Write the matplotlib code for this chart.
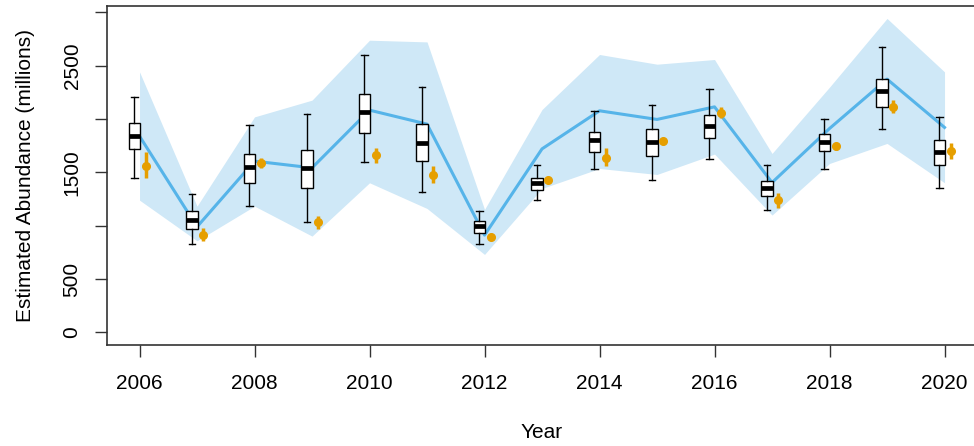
import matplotlib
matplotlib.use("Agg")
import matplotlib.pyplot as plt
import numpy as np

plt.rcParams['font.family'] = ['Liberation Sans', 'DejaVu Sans']

years = [2006, 2007, 2008, 2009, 2010, 2011, 2012, 2013,
         2014, 2015, 2016, 2017, 2018, 2019, 2020]

# model estimate (median) and credible band
est_median = [1840, 990, 1606, 1543, 2084, 1953, 912, 1721,
              2078, 1997, 2115, 1405, 1912, 2375, 1922]
band_upper = [2443, 1184, 2021, 2178, 2740, 2724, 1153, 2090,
              2606, 2515, 2559, 1678, 2300, 2944, 2443]
band_lower = [1240, 859, 1184, 903, 1403, 1162, 731, 1350,
              1537, 1481, 1672, 1100, 1584, 1772, 1403]

# survey boxplot summaries
box_whislo = [1444, 828, 1184, 1031, 1597, 1318, 828, 1237,
              1534, 1431, 1625, 1144, 1528, 1903, 1353]
box_q1 = [1716, 965, 1400, 1353, 1871, 1606, 934, 1331,
          1688, 1656, 1822, 1281, 1700, 2115, 1572]
box_med = [1840, 1056, 1547, 1537, 2068, 1778, 994, 1400,
           1800, 1781, 1940, 1353, 1781, 2262, 1690]
box_q3 = [1959, 1134, 1669, 1706, 2240, 1950, 1046, 1444,
          1881, 1909, 2040, 1418, 1859, 2378, 1800]
box_whishi = [2203, 1297, 1943, 2047, 2600, 2297, 1140, 1566,
              2078, 2134, 2284, 1566, 2003, 2672, 2021]

# alternative point estimates with intervals
pt_est = [1562, 912, 1590, 1031, 1662, 1472, 891, 1428,
          1640, 1793, 2062, 1240, 1747, 2115, 1700]
pt_lo = [1450, 859, 1544, 969, 1590, 1397, 880, 1420,
         1562, 1762, 2009, 1162, 1715, 2053, 1625]
pt_hi = [1688, 975, 1631, 1094, 1731, 1559, 902, 1436,
         1725, 1824, 2115, 1309, 1778, 2178, 1778]

y_ticks = [0, 500, 1000, 1500, 2000, 2500, 3000]
y_ticklabels = ['0', '500', '', '1500', '', '2500', '']
x_ticks = [2006, 2008, 2010, 2012, 2014, 2016, 2018, 2020]

blue = '#56B4E9'
band = '#CFE8F7'
orange = '#E69F00'
frame = '#333333'

fig = plt.figure(figsize=(9.74, 4.46), dpi=100)
ax = fig.add_axes([0.1102, 0.2265, 0.8926, 0.7594])

yrs = np.array(years, dtype=float)
ax.fill_between(yrs, band_lower, band_upper, color=band, lw=0, zorder=1)
ax.plot(yrs, est_median, color=blue, lw=2.2, zorder=2)

stats = []
for i in range(len(years)):
    stats.append(dict(med=box_med[i], q1=box_q1[i], q3=box_q3[i],
                      whislo=box_whislo[i], whishi=box_whishi[i], fliers=[]))
ax.bxp(stats, positions=yrs - 0.09, widths=0.2, showfliers=False,
       patch_artist=True, manage_ticks=False,
       boxprops=dict(facecolor='white', edgecolor='black', lw=1.0),
       medianprops=dict(color='black', lw=3.4, solid_capstyle='butt'),
       whiskerprops=dict(color='black', lw=1.0),
       capprops=dict(color='black', lw=1.0), capwidths=0.11,
       zorder=3)

pe = np.array(pt_est)
ax.errorbar(yrs + 0.105, pe, yerr=[pe - np.array(pt_lo), np.array(pt_hi) - pe],
            fmt='o', color=orange, ms=5.5, elinewidth=2.5, capsize=0, zorder=4)

ax.set_xlim(2005.44, 2020.56)
ax.set_ylim(-118, 3058)
ax.set_xticks(x_ticks)
ax.set_xticklabels([str(x) for x in x_ticks])
ax.set_yticks(y_ticks)
ax.set_yticklabels(y_ticklabels, rotation=90, va='center')
ax.tick_params(axis='both', length=8.6, width=1.0, color=frame,
               labelsize=15, labelcolor='black')
ax.tick_params(axis='x', pad=12)
ax.tick_params(axis='y', pad=10)
for s in ax.spines.values():
    s.set_color(frame)
    s.set_linewidth(1.2)

ax.set_xlabel('Year', fontsize=15, labelpad=22)
ax.set_ylabel('Estimated Abundance (millions)', fontsize=15, labelpad=20)

fig.savefig('out.png', dpi=100)
